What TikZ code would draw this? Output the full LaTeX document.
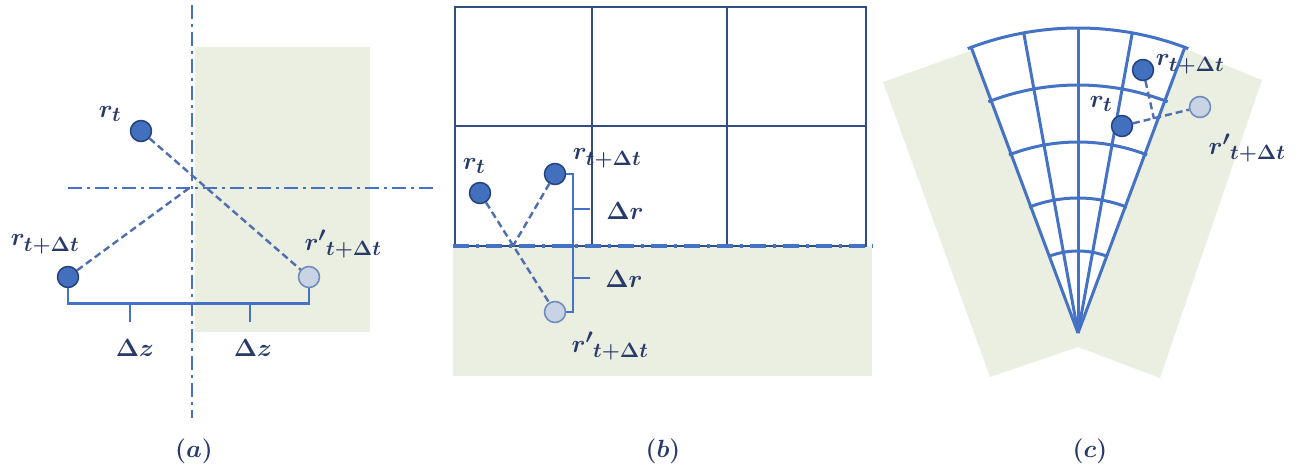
\documentclass[tikz,border=0pt]{standalone}
\usepackage{amsmath,bm}
\usetikzlibrary{calc}
\definecolor{lineblue}{RGB}{68,114,196}
\definecolor{trajblue}{RGB}{78,110,176}
\definecolor{gridblue}{RGB}{50,76,132}
\definecolor{dotblue}{RGB}{66,112,190}
\definecolor{dotedge}{RGB}{38,66,124}
\definecolor{ghostfill}{RGB}{200,212,228}
\definecolor{ghostedge}{RGB}{108,138,188}
\definecolor{labelblue}{RGB}{40,58,104}
\definecolor{bgreen}{RGB}{235,239,225}
\begin{document}
\begin{tikzpicture}[x=1pt,y=-1pt,
  dot/.style={circle, fill=dotblue, draw=dotedge, line width=1.5pt, minimum size=21pt, inner sep=0pt},
  ghost/.style={circle, fill=ghostfill, draw=ghostedge, line width=1.5pt, minimum size=21pt, inner sep=0pt},
  lbl/.style={text=labelblue, font=\Huge, inner sep=0pt},
  traj/.style={draw=trajblue, line width=2.4pt, dash pattern=on 7pt off 4pt},
  axisline/.style={draw=lineblue, line width=2.2pt, dash pattern=on 14pt off 5pt on 3pt off 5pt},
  axisthick/.style={draw=lineblue, line width=3.5pt, dash pattern=on 16pt off 7pt on 3pt off 7pt},
  brack/.style={draw=lineblue, line width=2.8pt},
  gridline/.style={draw=gridblue, line width=1.3pt},
  fanline/.style={draw=lineblue, line width=3pt}]
\useasboundingbox (0,0) rectangle (1308,473);

% ---------------- panel (a)
\fill[bgreen] (195,47) rectangle (370,332);
\draw[axisline] (192,5) -- (192,418);
\draw[axisline] (68,188) -- (435,188);
\coordinate (ca) at (192,186);
\node[dot] (art) at (141,131) {};
\node[dot] (ar2) at (68,277) {};
\node[ghost] (arp) at (309,277) {};
\draw[traj] (art) -- (arp);
\draw[traj] (ar2) -- (ca);
\draw[brack] (ar2.south) -- ++(0,15) -| (arp.south);
\coordinate (at1) at (130,302);
\coordinate (at2) at (250,302);
\draw[brack] (at1) -- ++(0,20);
\draw[brack] (at2) -- ++(0,20);
\node[lbl] (lart) at (110,114) {$\bm{r_t}$};
\node[lbl] (lar2) at (45,244) {$\bm{r_{t+\Delta t}}$};
\node[lbl] (larp) at (343,244) {$\bm{{r'}_{t+\Delta t}}$};
\node[lbl] (adz1) at (135,348) {$\bm{\Delta z}$};
\node[lbl] (adz2) at (253,348) {$\bm{\Delta z}$};
\node[lbl] (capa) at (194,451) {$\bm{(a)}$};

% ---------------- panel (b)
\fill[bgreen] (453,246) rectangle (872,376);
\draw[gridline] (455,7) rectangle (866,246);
\draw[gridline] (592,7) -- (592,246);
\draw[gridline] (727,7) -- (727,246);
\draw[gridline] (455,126) -- (866,126);
\draw[axisthick] (453,246) -- (873,246);
\node[dot] (brt) at (480,193) {};
\node[dot] (br2) at (555,174) {};
\node[ghost] (brp) at (555,312) {};
\coordinate (cb) at (513,246);
\draw[traj] (brt) -- (brp);
\draw[traj] (br2) -- (cb);
\draw[brack] (br2.east) -| (573,246);
\draw[brack] (573,246) |- (brp.east);
\draw[brack, line width=4pt] (558,246) -- (573,246);
\coordinate (bt1) at (573,209);
\coordinate (bt2) at (573,278);
\draw[brack] (bt1) -- ++(17,0);
\draw[brack] (bt2) -- ++(17,0);
\node[lbl] (lbrt) at (474,166) {$\bm{r_t}$};
\node[lbl] (lbr2) at (607,158) {$\bm{r_{t+\Delta t}}$};
\node[lbl] (lbrp) at (610,346) {$\bm{{r'}_{t+\Delta t}}$};
\node[lbl] (bdr1) at (625,211) {$\bm{\Delta r}$};
\node[lbl] (bdr2) at (624,279) {$\bm{\Delta r}$};
\node[lbl] (capb) at (663,451) {$\bm{(b)}$};

% ---------------- panel (c)
\fill[bgreen] (883,82) -- (973,50) -- (1183,48) -- (1262,80) -- (1160,378) -- (1078,347) -- (990,377) -- cycle;
\fill[white] (1078,333) -- plot[domain=249.5:290.5,samples=50] ({1078+305*cos(\x)},{333+305*sin(\x)}) -- cycle;
\foreach \a in {249.5,259.75,270,280.25,290.5}
  \draw[fanline] (1078,333) -- ({1078+305*cos(\a)},{333+305*sin(\a)});
\foreach \r in {305,248,191,135,82}
  \draw[fanline] plot[domain=248.8:291.2,samples=50] ({1078+\r*cos(\x)},{333+\r*sin(\x)});
\node[dot] (cr2) at (1143,70) {};
\node[dot] (crt) at (1122,126) {};
\node[ghost] (crp) at (1200,107) {};
\coordinate (cc) at (1154,119);
\draw[traj] (crt) -- (crp);
\draw[traj] (cr2) -- (cc);
\node[lbl] (lcr2) at (1190,64) {$\bm{r_{t+\Delta t}}$};
\node[lbl] (lcrt) at (1101,104) {$\bm{r_t}$};
\node[lbl] (lcrp) at (1247,148) {$\bm{{r'}_{t+\Delta t}}$};
\node[lbl] (capc) at (1090,451) {$\bm{(c)}$};
\end{tikzpicture}
\end{document}
